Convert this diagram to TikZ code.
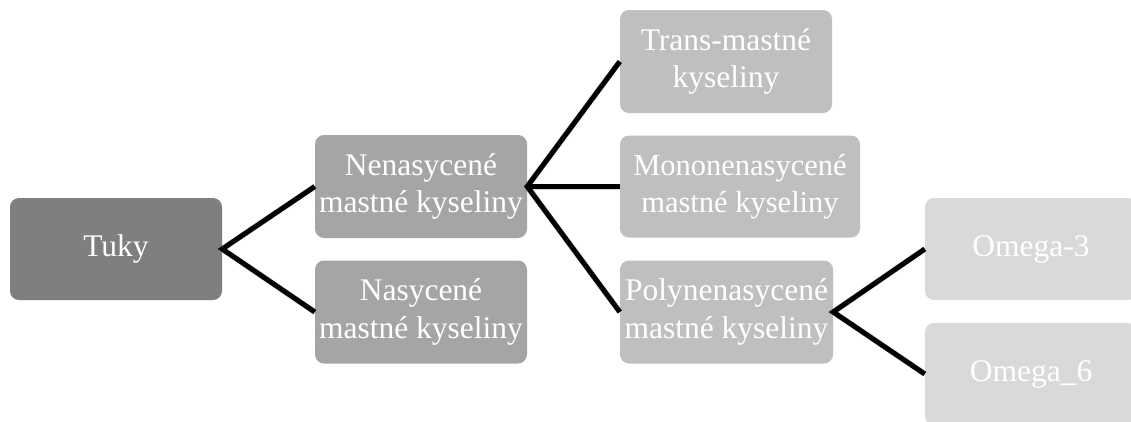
\documentclass[tikz,border=0pt]{standalone}
\usepackage{fontspec}
\setmainfont{Liberation Serif}
\definecolor{cA}{HTML}{7F7F7F}
\definecolor{cB}{HTML}{A5A5A5}
\definecolor{cC}{HTML}{BFBFBF}
\definecolor{cD}{HTML}{D9D9D9}
\tikzset{
  box/.style={rounded corners=9pt, minimum width=212pt, minimum height=102pt,
    text=white, align=center, inner sep=2pt,
    font=\fontsize{31.5}{37.5}\selectfont},
  lvA/.style={box, fill=cA},
  lvB/.style={box, fill=cB},
  lvC/.style={box, fill=cC},
  lvD/.style={box, fill=cD},
  conn/.style={line width=5pt, black, line join=miter},
  connshadow/.style={line width=6pt, black!45, opacity=0.4, line join=miter, shift={(1.5,1.5)}}
}
\begin{document}
\begin{tikzpicture}[x=1pt, y=-1pt]
\useasboundingbox (0,0) rectangle (1131,421);
\clip (0,0) rectangle (1131,421);
\fill[white] (0,0) rectangle (1131,421);

\node[lvA] (tuky) at (116,249) {Tuky};
\node[lvB, minimum height=103pt] (nen) at (421,186.5) {Nenasycené\\mastné kyseliny};
\node[lvB, minimum height=103pt] (nas) at (421,312) {Nasycené\\mastné kyseliny};
\node[lvC, minimum height=103pt] (trans) at (726,61.5) {Trans-mastné\\kyseliny};
\node[lvC, minimum width=240pt, minimum height=102pt, font=\fontsize{30.5}{36.5}\selectfont] (mono) at (740,186.5) {Mononenasycené\\mastné kyseliny};
\node[lvC, minimum width=213pt, minimum height=103pt] (poly) at (726.5,312) {Polynenasycené\\mastné kyseliny};
\node[lvD] (om3) at (1031,249) {Omega-3};
\node[lvD] (om6) at (1031,374) {Omega\_6};

% shadows
\draw[connshadow] (nen.west) -- (tuky.east) -- (nas.west);
\draw[connshadow] (trans.west) -- (nen.east) -- (poly.west);
\draw[connshadow] (nen.east) -- (mono.west);
\draw[connshadow] (om3.west) -- (poly.east) -- (om6.west);

% connectors
\draw[conn] (nen.west) -- (tuky.east) -- (nas.west);
\draw[conn] (trans.west) -- (nen.east) -- (poly.west);
\draw[conn] (nen.east) -- (mono.west);
\draw[conn] (om3.west) -- (poly.east) -- (om6.west);
\end{tikzpicture}
\end{document}
